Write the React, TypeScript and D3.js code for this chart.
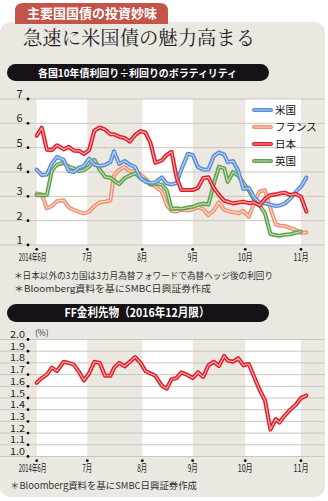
import React from "react";
import * as d3 from "d3";

// ---- data ----
const dates = [
  "2014-06-01","2014-06-04","2014-06-07","2014-06-10","2014-06-13","2014-06-17","2014-06-20","2014-06-23","2014-06-26","2014-06-29",
  "2014-07-02","2014-07-05","2014-07-08","2014-07-11","2014-07-14","2014-07-16","2014-07-19","2014-07-22","2014-07-25","2014-07-28","2014-07-31",
  "2014-08-03","2014-08-06","2014-08-09","2014-08-13","2014-08-16","2014-08-19","2014-08-22","2014-08-25","2014-08-29","2014-09-01",
  "2014-09-04","2014-09-07","2014-09-10","2014-09-13","2014-09-16","2014-09-19","2014-09-21","2014-09-24","2014-09-27","2014-09-30",
  "2014-10-03","2014-10-06","2014-10-09","2014-10-12","2014-10-15","2014-10-18","2014-10-20","2014-10-23","2014-10-26","2014-10-29",
  "2014-11-01","2014-11-04"
];

const usValues = [4.1, 3.87, 3.9, 4.35, 4.62, 4.5, 4.04, 4.0, 4.18, 4.25,
  4.55, 4.3, 4.25, 4.29, 4.4, 4.85, 4.33, 4.45, 4.3, 4.2, 3.75,
  3.6, 3.55, 3.57, 3.78, 3.53, 3.49, 3.55, 4.1, 4.75, 4.7,
  4.2, 4.1, 4.1, 4.65, 4.8, 4.72, 4.4, 4.45, 4.05, 3.3,
  3.35, 2.95, 2.75, 2.71, 2.66, 2.6, 2.62, 2.7, 2.9, 3.17,
  3.4, 3.77];

const franceValues = [3.12, 3.08, 2.51, 2.6, 2.8, 2.84, 2.55, 2.44, 2.36, 2.3,
  2.37, 2.6, 2.75, 2.78, 2.83, 3.85, 4.1, 4.2, 4.03, 4.05, 3.9,
  3.72, 3.53, 3.4, 3.2, 2.65, 2.4, 2.38, 2.45, 2.42, 2.47,
  2.55, 2.48, 2.23, 2.42, 2.75, 2.45, 2.4, 2.35, 2.3, 2.4,
  2.16, 2.75, 3.2, 3.25, 2.5, 1.85, 1.8, 1.78, 1.7, 1.62,
  1.5, 1.52];

const japanValues = [5.49, 5.82, 4.92, 4.9, 5.1, 4.93, 5.03, 4.88, 4.87, 4.74,
  4.9, 5.7, 5.83, 5.75, 5.55, 5.55, 5.45, 5.4, 5.25, 5.52, 5.68,
  5.62, 5.2, 4.38, 4.48, 4.7, 4.83, 3.8, 3.26, 3.26, 3.26,
  3.35, 3.75, 3.78, 3.35, 3.06, 2.82, 2.78, 2.71, 2.75, 2.78,
  2.72, 2.75, 2.62, 2.9, 3.05, 3.08, 3.12, 3.15, 3.05, 3.1,
  2.98, 2.37];

const ukValues = [3.05, 3.05, 3.05, 4.05, 4.3, 4.38, 4.22, 4.15, 4.03, 4.08,
  4.22, 4.5, 4.1, 3.8, 3.76, 3.65, 3.5, 3.75, 3.85, 3.95, 3.75,
  3.65, 3.48, 3.53, 3.48, 3.25, 2.48, 2.51, 2.48, 2.54, 2.57,
  2.65, 2.7, 2.66, 3.5, 4.22, 4.15, 3.6, 4.0, 3.85, 3.55,
  3.25, 2.85, 2.64, 2.3, 1.45, 1.4, 1.38, 1.42, 1.44, 1.5,
  1.55, null];

const ffValues = [1.63, 1.67, 1.70, 1.76, 1.73, 1.81, 1.80, 1.785, 1.725, 1.65,
  1.71, 1.81, 1.80, 1.69, 1.69, 1.755, 1.80, 1.77, 1.81, 1.85, 1.80,
  1.73, 1.71, 1.69, 1.605, 1.58, 1.66, 1.67, 1.72, 1.695, 1.67,
  1.72, 1.68, 1.78, 1.81, 1.775, 1.86, 1.82, 1.81, 1.84, 1.78,
  1.79, 1.68, 1.57, 1.48, 1.23, 1.32, 1.29, 1.35, 1.40, 1.44,
  1.50, 1.52];

const seriesNames = ["米国", "フランス", "日本", "英国"];
const monthTicks = ["2014-06-01","2014-07-01","2014-08-01","2014-09-01","2014-10-01","2014-11-01"];
const monthLabels = ["2014年6月","7月","8月","9月","10月","11月"];
const topTicks = [1, 2, 3, 4, 5, 6, 7];
const bottomTicks = [1.0, 1.1, 1.2, 1.3, 1.4, 1.5, 1.6, 1.7, 1.8, 1.9, 2.0];

// ---- styles ----
const BG = "#ebe7e1";
const GRID = "#cbc6bf";
const JP = "'Noto Sans CJK JP', 'Noto Sans', sans-serif";
const colors: Record<string, [string, string]> = {
  "米国": ["#5a8ed6", "#bcd1f3"],
  "フランス": ["#ef9272", "#fcd9cb"],
  "日本": ["#de1f2b", "#f8a9ab"],
  "英国": ["#5ea24c", "#bddcb0"],
};

export default function App() {
  const parse = d3.timeParse("%Y-%m-%d");
  const dts = dates.map((d) => parse(d) as Date);
  const months = monthTicks.map((d) => parse(d) as Date);
  const x = d3.scaleTime().domain(months).range([36.7, 87.3, 142.3, 192.7, 245.2, 301]);

  const yTop = d3.scaleLinear().domain([1, 7]).range([245, 99]);
  const yBot = d3.scaleLinear().domain([1, 2]).range([456.5, 339.5]);

  const mkLine = (y: d3.ScaleLinear<number, number>) =>
    d3.line<[Date, number | null]>()
      .defined((d) => d[1] != null)
      .x((d) => x(d[0]))
      .y((d) => y(d[1] as number));

  const topLine = mkLine(yTop);
  const botLine = mkLine(yBot);

  const seriesData: Record<string, (number | null)[]> = {
    "米国": usValues,
    "フランス": franceValues,
    "日本": japanValues,
    "英国": ukValues,
  };
  const drawOrder = ["フランス", "英国", "米国", "日本"];

  const whiteMonths = [0, 2, 4];

  const renderDouble = (d: string | null, col: [string, string], key: string) => (
    <g key={key}>
      <path d={d || ""} fill="none" stroke={col[0]} strokeWidth={4.1} strokeLinejoin="round" strokeLinecap="round" />
      <path d={d || ""} fill="none" stroke={col[1]} strokeWidth={1.2} strokeLinejoin="round" strokeLinecap="round" />
    </g>
  );

  const monthLabelEls = (yBase: number, yDot: number) =>
    months.map((m, i) => {
      const label = monthLabels[i];
      const cx = i === 0 ? x(m) - 4 : x(m);
      const len = i === 0 ? 28 : label.length === 2 ? 10 : 15;
      return (
        <g key={"m" + i}>
          <circle cx={x(m)} cy={yDot} r={1.4} fill="#111" />
          <text x={cx} y={yBase} textAnchor="middle" fontSize={10.5} fontFamily={JP} fill="#222"
            textLength={len} lengthAdjust="spacingAndGlyphs">{label}</text>
        </g>
      );
    });

  return (
    <svg width={328} height={501} style={{ position: "fixed", left: 0, top: 0, display: "block", background: "#fff" }}>
      {/* panel */}
      <rect x={0} y={22} width={325} height={475} rx={10} fill={BG} />
      {/* red tab */}
      <path d="M15,24 L15,11 Q15,3 23,3 L160,3 Q168,3 168,11 L168,24 Z" fill="#c2544a" />
      <text x={27} y={18} fontSize={13} fontWeight={700} fill="#fff" fontFamily={JP} textLength={130} lengthAdjust="spacingAndGlyphs">主要国国債の投資妙味</text>
      {/* title */}
      <text x={23} y={45} fontSize={19.5} fill="#1e1e1e" fontFamily={"'Noto Serif CJK JP', 'Noto Sans CJK JP', serif"} textLength={232} lengthAdjust="spacingAndGlyphs">急速に米国債の魅力高まる</text>

      {/* pill 1 */}
      <rect x={7} y={64} width={262} height={17} rx={8.5} fill="#161218" />
      <text x={38} y={76.5} fontSize={10.5} fontWeight={700} fill="#fff" fontFamily={JP} textLength={199} lengthAdjust="spacingAndGlyphs">各国10年債利回り÷利回りのボラティリティ</text>

      {/* top chart bands */}
      {whiteMonths.map((i) => (
        <rect key={"wt" + i} x={x(months[i])} y={yTop(7)} width={x(months[i + 1]) - x(months[i])} height={yTop(1) - yTop(7)} fill="#fff" />
      ))}
      {topTicks.map((t) => (
        <g key={"tt" + t}>
          <line x1={0} x2={325} y1={yTop(t)} y2={yTop(t)} stroke={GRID} strokeWidth={1} />
          <circle cx={28} cy={yTop(t)} r={1.4} fill="#111" />
          <text x={22.5} y={yTop(t) - 1} textAnchor="end" fontSize={11} fontFamily={JP} fill="#222">{t}</text>
        </g>
      ))}
      {drawOrder.map((name) => {
        const vals = seriesData[name];
        const pts = dts.map((d, i) => [d, vals[i]] as [Date, number | null]);
        return renderDouble(topLine(pts), colors[name], "s" + name);
      })}
      {/* legend */}
      {seriesNames.map((name, i) => {
        const ly = 110 + i * 17;
        return (
          <g key={"lg" + name}>
            <line x1={254} x2={271} y1={ly} y2={ly} stroke={colors[name][0]} strokeWidth={4.1} strokeLinecap="round" />
            <line x1={254} x2={271} y1={ly} y2={ly} stroke={colors[name][1]} strokeWidth={1.2} strokeLinecap="round" />
            <text x={275} y={ly + 4} fontSize={10.5} fontFamily={JP} fill="#111">{name}</text>
          </g>
        );
      })}
      {monthLabelEls(260.5, 249.3)}

      {/* notes */}
      <text x={14} y={279} fontSize={8.8} fill="#333" fontFamily={JP} textLength={259} lengthAdjust="spacingAndGlyphs">＊日本以外の3カ国は3カ月為替フォワードで為替ヘッジ後の利回り</text>
      <text x={14} y={291.5} fontSize={8.8} fill="#333" fontFamily={JP} textLength={197} lengthAdjust="spacingAndGlyphs">＊Bloomberg資料を基にSMBC日興証券作成</text>

      {/* pill 2 */}
      <rect x={7} y={304} width={262} height={18} rx={9} fill="#161218" />
      <text x={137} y={317} textAnchor="middle" fontSize={12} fontWeight={700} fill="#fff" fontFamily={JP} textLength={145} lengthAdjust="spacingAndGlyphs">FF金利先物（2016年12月限）</text>

      {/* bottom chart */}
      <text x={35} y={336} fontSize={8.5} fill="#333" fontFamily={JP}>(%)</text>
      {whiteMonths.map((i) => (
        <rect key={"wb" + i} x={x(months[i])} y={yBot(2)} width={x(months[i + 1]) - x(months[i])} height={yBot(1) - yBot(2)} fill="#fff" />
      ))}
      {bottomTicks.map((t) => (
        <g key={"bt" + t}>
          <line x1={0} x2={325} y1={yBot(t)} y2={yBot(t)} stroke={GRID} strokeWidth={1} />
          <circle cx={28} cy={yBot(t)} r={1.4} fill="#111" />
          <text x={25} y={yBot(t) - 1.5} textAnchor="end" fontSize={9} fontFamily={JP} fill="#222"
            textLength={15} lengthAdjust="spacingAndGlyphs">{t.toFixed(1)}</text>
        </g>
      ))}
      {renderDouble(botLine(dts.map((d, i) => [d, ffValues[i]] as [Date, number | null])), colors["日本"], "ff")}
      {monthLabelEls(472, 460.7)}

      <text x={10} y={489} fontSize={9.3} fill="#333" fontFamily={JP} textLength={187} lengthAdjust="spacingAndGlyphs">＊Bloomberg資料を基にSMBC日興証券作成</text>
    </svg>
  );
}
